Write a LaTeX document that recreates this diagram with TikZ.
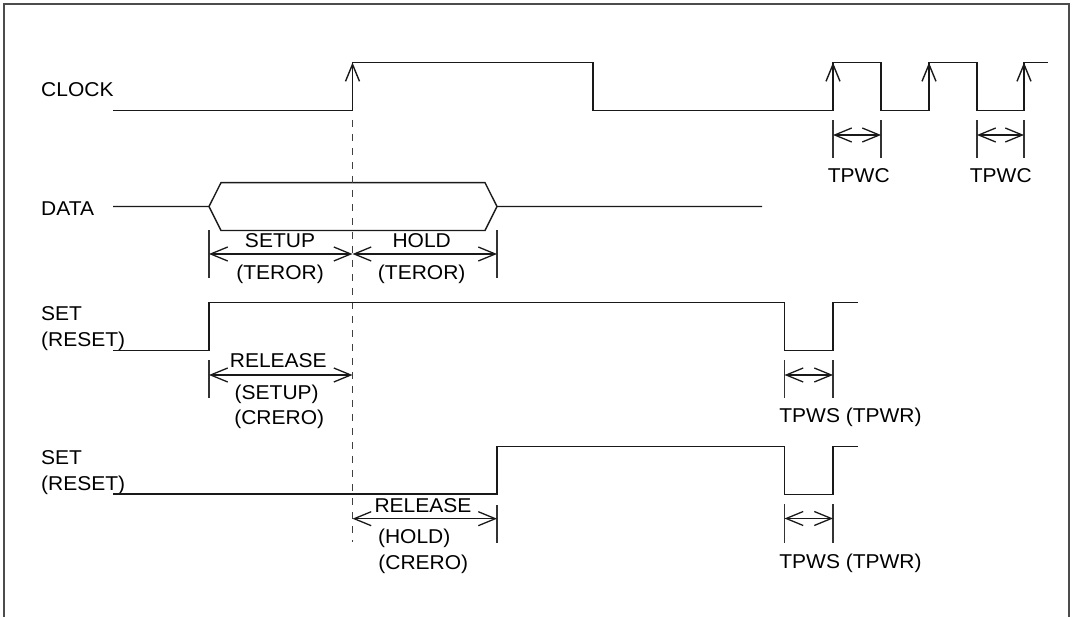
\documentclass[tikz,border=0pt]{standalone}
\usepackage{fontspec}
\setmainfont{Liberation Sans}[FakeStretch=1.05]
\usetikzlibrary{arrows.meta}
\begin{document}
\begin{tikzpicture}[x=1pt,y=-1pt,
  wave/.style={line width=1.4pt, black!90, line join=miter},
  edgearrow/.style={line width=1.4pt, black!90, -{Straight Barb[length=17pt,width=14pt]}},
  dimarrow/.style={line width=1.3pt, black!90, {Straight Barb[length=17pt,width=14pt]}-{Straight Barb[length=17pt,width=14pt]}},
  dimtick/.style={line width=1.4pt, black!80},
  lbl/.style={inner sep=0pt, anchor=base, font=\fontsize{20}{24}\selectfont},
  sig/.style={lbl, anchor=base west},
  frame/.style={line width=2pt, black!70},
  guide/.style={line width=1.5pt, black!75, dash pattern=on 7pt off 7pt}]
\useasboundingbox (0,0) rectangle (1074,617);
\draw[frame] (4,617) -- (4,4) -- (1069,4) -- (1069,617);

% signal names
\node[sig] (lclk) at (41,96.7) {CLOCK};
\node[sig] (ldata) at (41,216) {DATA};
\node[sig] (lset1) at (41,320.7) {SET};
\node[sig] (lrst1) at (41,346.5) {(RESET)};
\node[sig] (lset2) at (41,464.4) {SET};
\node[sig] (lrst2) at (41,490) {(RESET)};

% CLOCK
\draw[wave] (113,110.5) -- (352.5,110.5) -- (352.5,62.5) -- (593,62.5) -- (593,110.5)
  -- (833,110.5) -- (833,62.5) -- (881,62.5) -- (881,110.5) -- (929,110.5) -- (929,62.5)
  -- (977,62.5) -- (977,110.5) -- (1024,110.5) -- (1024,62.5) -- (1048,62.5);
\foreach \x in {352.5,833,929,1024}{
  \draw[edgearrow] (\x,100) -- (\x,62.5);
}

% DATA
\draw[wave] (113,206.5) -- (209,206.5) -- (221,182.7) -- (485,182.7) -- (497,206.5) -- (762,206.5);
\draw[wave] (209,206.5) -- (221,230.5) -- (485,230.5) -- (497,206.5);

% guide line
\draw[guide] (352.5,120) -- (352.5,542);

% SETUP / HOLD
\draw[dimtick] (209,230) -- (209,278);
\draw[dimtick] (497,230) -- (497,278);
\draw[dimarrow] (209,254) -- (352.5,254);
\draw[dimarrow] (352.5,254) -- (497,254);
\node[lbl] (tsetup) at (280,247.3) {SETUP};
\node[lbl] (tteror1) at (280,280) {(TEROR)};
\node[lbl] (thold) at (421.7,247.3) {HOLD};
\node[lbl] (tteror2) at (421.7,280) {(TEROR)};

% TPWC
\draw[dimtick] (833,120) -- (833,158);
\draw[dimtick] (881,120) -- (881,158);
\draw[dimarrow] (833,135) -- (881,135);
\node[lbl] (ttpwc1) at (858.8,182.7) {TPWC};
\draw[dimtick] (977,120) -- (977,158);
\draw[dimtick] (1024,120) -- (1024,158);
\draw[dimarrow] (977,135) -- (1024,135);
\node[lbl] (ttpwc2) at (1000.8,182.7) {TPWC};

% SET row 1
\draw[wave] (113,350.3) -- (209,350.3) -- (209,302.7) -- (784.5,302.7) -- (784.5,350.3)
  -- (833,350.3) -- (833,302.7) -- (857.5,302.7);
\draw[dimtick] (209,360) -- (209,398);
\draw[dimarrow] (209,375) -- (352.5,375);
\node[lbl] (trel1) at (278.3,367.3) {RELEASE};
\node[lbl] (tsetup2) at (276.7,399.3) {(SETUP)};
\node[lbl] (tcrero1) at (279.2,425) {(CRERO)};
\draw[dimtick] (784.5,360) -- (784.5,398);
\draw[dimtick] (833,360) -- (833,398);
\draw[dimarrow] (784.5,375) -- (833,375);
\node[lbl] (ttpws1) at (850.5,422.7) {TPWS (TPWR)};

% SET row 2
\draw[wave] (113,494) -- (497,494) -- (497,446.7) -- (784.5,446.7) -- (784.5,494.3)
  -- (833,494.3) -- (833,446.7) -- (857.5,446.7);
\draw[dimtick] (497,505) -- (497,543);
\draw[dimarrow] (352.5,518.7) -- (497,518.7);
\node[lbl] (trel2) at (423,512.7) {RELEASE};
\node[lbl] (thold2) at (414.2,543.3) {(HOLD)};
\node[lbl] (tcrero2) at (423.3,569.3) {(CRERO)};
\draw[dimtick] (784.5,504) -- (784.5,543);
\draw[dimtick] (833,504) -- (833,543);
\draw[dimarrow] (784.5,518.5) -- (833,518.5);
\node[lbl] (ttpws2) at (850.5,568.3) {TPWS (TPWR)};
\end{tikzpicture}
\end{document}
